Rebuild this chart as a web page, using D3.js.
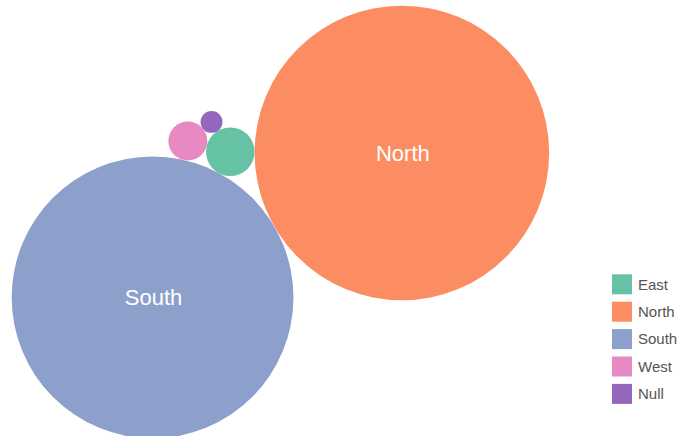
<!DOCTYPE html>
<html><head><meta charset="utf-8">
<script src="https://cdn.jsdelivr.net/npm/d3@7"></script>
<style>html,body{margin:0;padding:0;background:#fff;} svg{display:block;font-family:"Liberation Sans",Arial,Helvetica,sans-serif;}</style>
</head><body><svg id="c" width="679" height="436"></svg>
<script>
// ---- data ----
const categories = ["East", "North", "South", "West", "Null"];
const values     = [59, 2170, 1985, 38, 12];
const colors     = ["#66c2a5", "#fc8d62", "#8da0cb", "#e78ac3", "#9467bd"];

// ---- layout parameters ----
const W = 679, H = 436;
const maxR = 147.3;
const firstAngle = 149.9 * Math.PI / 180; // direction from largest to 2nd largest bubble
const centre = [281, 220];                // where the area-weighted centroid lands

const svg = d3.select("#c");
const rScale = d3.scaleSqrt().domain([0, d3.max(values)]).range([0, maxR]);
const color = d3.scaleOrdinal().domain(categories).range(colors);

const nodes = categories.map((c, i) => ({name: c, value: values[i], r: rScale(values[i])}))
  .sort((a, b) => b.value - a.value);

function tangent(a, b, rc) {
  const dx = b.x - a.x, dy = b.y - a.y, d = Math.hypot(dx, dy);
  const ra = a.r + rc, rb = b.r + rc;
  const x = (d * d + ra * ra - rb * rb) / (2 * d);
  const h = Math.sqrt(Math.max(0, ra * ra - x * x));
  const ux = dx / d, uy = dy / d;
  return [
    {x: a.x + ux * x - uy * h, y: a.y + uy * x + ux * h},
    {x: a.x + ux * x + uy * h, y: a.y + uy * x - ux * h}
  ];
}
function overlap(p, rc, placed) {
  let s = 0;
  placed.forEach(q => { const o = q.r + rc - Math.hypot(p.x - q.x, p.y - q.y); if (o > 1e-6) s += o; });
  return s;
}

nodes.forEach((n, i) => {
  if (i === 0) { n.x = 0; n.y = 0; return; }
  if (i === 1) {
    const d = nodes[0].r + n.r;
    n.x = Math.cos(firstAngle) * d; n.y = Math.sin(firstAngle) * d; return;
  }
  const a = nodes[i - 2], b = nodes[i - 1];
  const cands = tangent(a, b, n.r);
  let pick;
  if (i === 2) pick = cands[0];
  else {
    const placed = nodes.slice(0, i - 2);
    const prev = nodes[i - 3];
    cands.sort((p, q) => (overlap(p, n.r, placed) - overlap(q, n.r, placed)) ||
      (Math.hypot(q.x - prev.x, q.y - prev.y) - Math.hypot(p.x - prev.x, p.y - prev.y)));
    pick = cands[0];
  }
  n.x = pick.x; n.y = pick.y;
});

const wsum = d3.sum(nodes, n => n.r * n.r);
const cx = d3.sum(nodes, n => n.x * n.r * n.r) / wsum;
const cy = d3.sum(nodes, n => n.y * n.r * n.r) / wsum;
nodes.forEach(n => { n.x += centre[0] - cx; n.y += centre[1] - cy; });

const g = svg.append("g");
g.selectAll("circle").data(nodes).join("circle")
  .attr("cx", d => d.x).attr("cy", d => d.y).attr("r", d => d.r)
  .attr("fill", d => color(d.name));

g.selectAll("text").data(nodes.filter(d => d.r > 40)).join("text")
  .attr("x", d => d.x + 1).attr("y", d => d.y).attr("dy", "0.35em")
  .attr("text-anchor", "middle").attr("fill", "#fff")
  .style("font-size", "22px")
  .text(d => d.name);

// ---- legend ----
const legend = svg.append("g").attr("transform", "translate(612,274.3)");
const ly = d3.scaleBand().domain(categories).range([0, 27.4 * categories.length]);
const items = legend.selectAll("g").data(categories).join("g")
  .attr("transform", d => `translate(0,${ly(d)})`);
items.append("rect").attr("width", 20).attr("height", 20).attr("fill", d => color(d));
items.append("text").attr("x", 26).attr("y", 10).attr("dy", "0.35em")
  .attr("fill", "#555").style("font-size", "15px").text(d => d);
</script></body></html>
